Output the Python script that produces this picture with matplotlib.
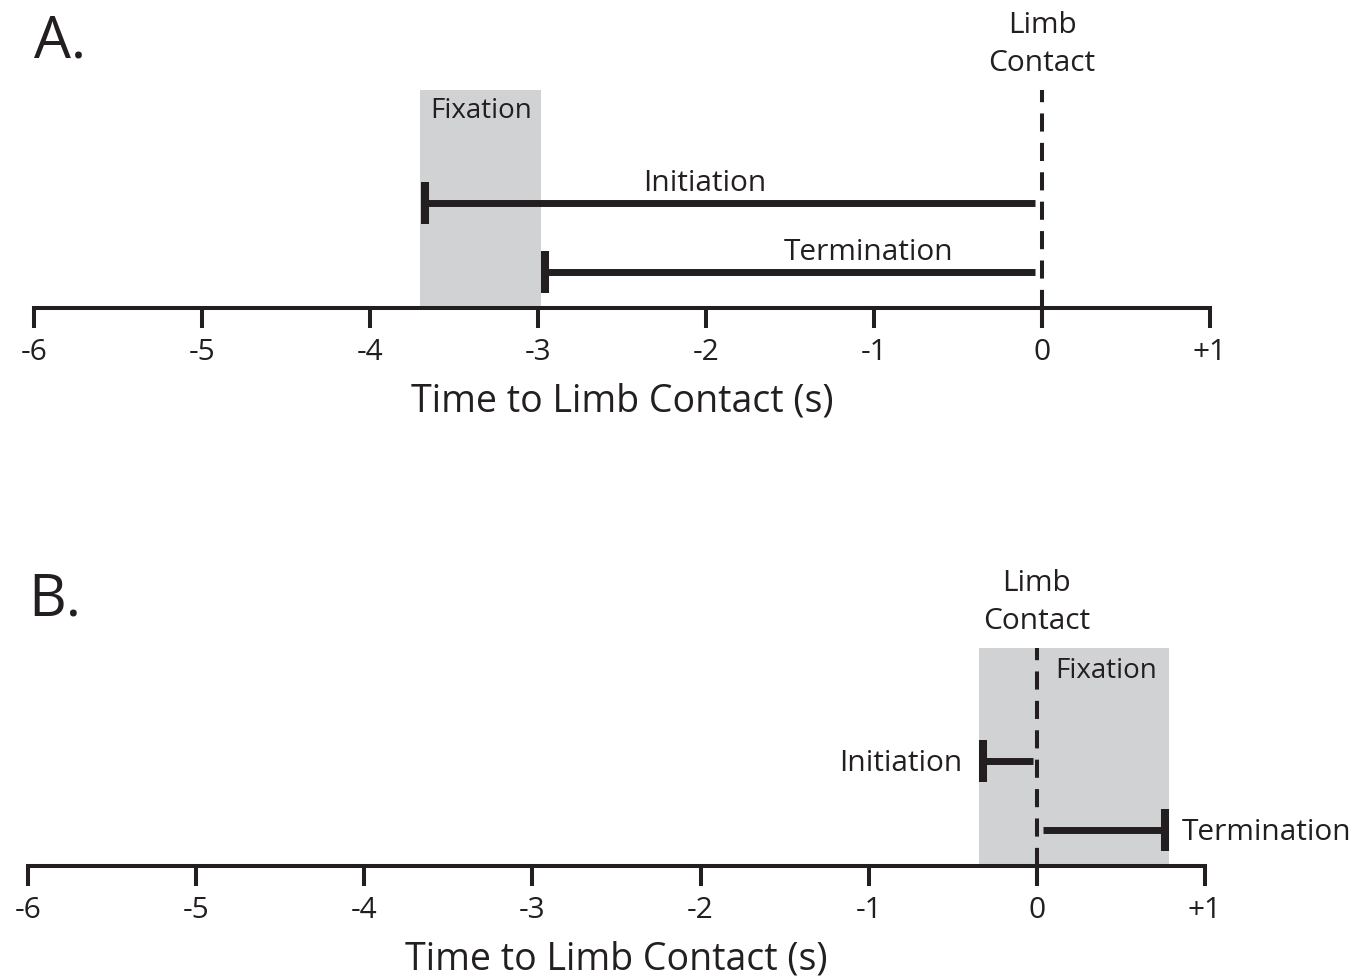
import matplotlib
matplotlib.use("Agg")
import matplotlib.pyplot as plt

plt.rcParams['font.family'] = ['Open Sans', 'DejaVu Sans']

ink = '#231f20'
shade = '#d1d2d4'

ticks = [-6, -5, -4, -3, -2, -1, 0, 1]
tick_labels = ['-6', '-5', '-4', '-3', '-2', '-1', '0', '+1']

# panel A (times in s relative to limb contact)
a_fix = [-3.70, -2.98]
a_init = [-3.67, -0.04]
a_term = [-2.96, -0.04]

# panel B
b_fix = [-0.345, 0.785]
b_init = [-0.32, -0.025]
b_term = [0.035, 0.76]

W, H = 1368, 977
fig = plt.figure(figsize=(W / 100, H / 100), dpi=100)


def make_ax(x0, x1, ybase):
    # pixel coords -> figure fraction; axes top is 218 px above the axis line
    return fig.add_axes([x0 / W, 1 - ybase / H, (x1 - x0) / W, 218 / H])


def panel(ax, fix, init, term):
    ax.set_xlim(-6, 1)
    ax.set_ylim(0.48, 3.64)
    for s in ['top', 'left', 'right']:
        ax.spines[s].set_visible(False)
    ax.spines['bottom'].set_linewidth(2.9)
    ax.spines['bottom'].set_color(ink)
    ax.set_yticks([])
    ax.set_xticks(ticks)
    ax.set_xticklabels(tick_labels, fontsize=21.5)
    ax.tick_params(axis='x', direction='out', length=14.5, width=2.9,
                   color=ink, labelcolor=ink, pad=7)
    ax.set_xlabel('Time to Limb Contact (s)', fontsize=27, color=ink, labelpad=11)

    ax.axvspan(fix[0], fix[1], color=shade, lw=0, zorder=0)
    ax.axvline(0, ymin=0, ymax=1, color=ink, lw=2.9, ls=(0, (4.5, 2.8)), zorder=3)
    ax.plot([0, 0], [0.48, 0.48 - 0.29], color=ink, lw=2.9, clip_on=False,
            solid_capstyle='butt')

    # initiation cap on the left end, termination cap on the far end from 0
    term_cap = term[0] if abs(term[0]) > abs(term[1]) else term[1]
    for row, seg, capx in [(2, init, init[0]), (1, term, term_cap)]:
        ax.hlines(row, seg[0], seg[1], color=ink, lw=5.0, zorder=4)
        ax.vlines(capx, row - 0.3, row + 0.3, color=ink, lw=5.8, zorder=4)

    ax.text(0, 3.64 + 0.17, 'Limb\nContact', ha='center', va='bottom', fontsize=21.5,
            color=ink, linespacing=1.42, clip_on=False)
    return ax


axA = make_ax(34, 1210, 308)
panel(axA, a_fix, a_init, a_term)
axA.text(sum(a_fix) / 2, 3.33, 'Fixation', ha='center', va='center', fontsize=20, color=ink)
axA.text(-2.01, 2.29, 'Initiation', ha='center', va='center', fontsize=21.5, color=ink)
axA.text(-1.03, 1.29, 'Termination', ha='center', va='center', fontsize=21.5, color=ink)
fig.text(34 / W, 1 - 42 / H, 'A.', fontsize=42, color=ink, ha='left', va='center')

axB = make_ax(28, 1205, 866)
panel(axB, b_fix, b_init, b_term)
axB.text(0.11, 3.30, 'Fixation', ha='left', va='center', fontsize=20, color=ink)
axB.text(b_init[0] - 0.12, 1.96, 'Initiation', ha='right', va='center', fontsize=21.5, color=ink)
axB.text(b_term[1] + 0.1, 0.96, 'Termination', ha='left', va='center', fontsize=21.5, color=ink)
fig.text(28 / W, 1 - 600 / H, 'B.', fontsize=42, color=ink, ha='left', va='center')

fig.savefig('out.png', dpi=100)
